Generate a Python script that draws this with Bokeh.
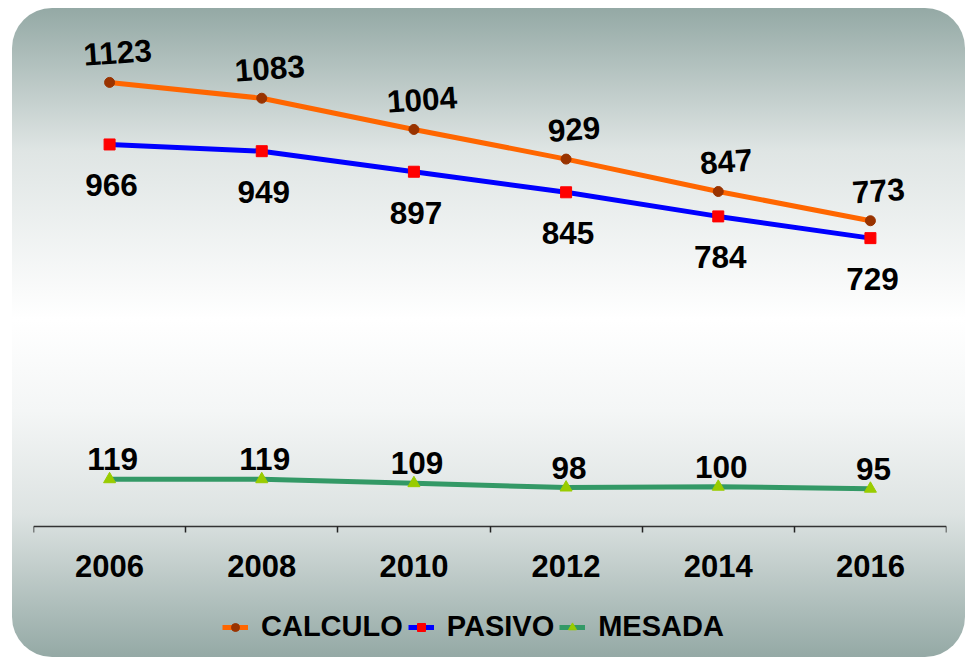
from bokeh.plotting import figure
from bokeh.models import ColumnDataSource, FixedTicker, Legend, LegendItem, LabelSet, Range1d
from bokeh.core.properties import value
from bokeh.embed import file_html
from bokeh.resources import INLINE

# ---- data ----
years = ["2006", "2008", "2010", "2012", "2014", "2016"]
calculo = [1123, 1083, 1004, 929, 847, 773]
pasivo = [966, 949, 897, 845, 784, 729]
mesada = [119, 119, 109, 98, 100, 95]
series_names = ["CALCULO", "PASIVO", "MESADA"]

xs = list(range(len(years)))
src = ColumnDataSource(dict(
    x=xs, calculo=calculo, pasivo=pasivo, mesada=mesada,
    calculo_t=[str(v) for v in calculo],
    pasivo_t=[str(v) for v in pasivo],
    mesada_t=[str(v) for v in mesada],
))

FONT = "Liberation Sans"

p = figure(width=953, height=649,
           x_range=Range1d(-0.5, len(years) - 0.5), y_range=Range1d(-332, 1310),
           output_backend="svg", toolbar_location=None,
           y_axis_location=None,
           min_border_left=21, min_border_right=19, min_border_top=0,
           min_border_bottom=0)
p.margin = (8, 2, 0, 12)
p.background_fill_color = None
p.border_fill_color = None
p.outline_line_color = None
p.grid.visible = False
p.styles = {
    "background": "linear-gradient(to bottom, #94a9a5 0%, #dfe5e4 22%, #ffffff 48%, #f4f6f6 62%, #dde3e2 78%, #94a9a5 100%)",
    "border-radius": "40px",
}

ax = p.xaxis[0]
ax.fixed_location = 0
ax.ticker = FixedTicker(ticks=xs, minor_ticks=[i - 0.5 for i in range(len(years) + 1)])
ax.major_label_overrides = {i: y for i, y in zip(xs, years)}
ax.major_tick_out = 0
ax.major_tick_in = 0
ax.minor_tick_out = 6
ax.minor_tick_in = 0
ax.minor_tick_line_color = "#222222"
ax.minor_tick_line_width = 1.5
ax.axis_line_color = "#333333"
ax.axis_line_width = 1.5
ax.major_label_text_font = FONT
ax.major_label_text_font_size = "31px"
ax.major_label_text_font_style = "bold"
ax.major_label_text_color = "black"
ax.major_label_standoff = 23

# ---- series ----
lc = p.line("x", "calculo", source=src, line_color="#FF6600", line_width=5)
mc = p.scatter("x", "calculo", source=src, marker="circle", size=10,
               fill_color="#993300", line_color="#993300")
lp = p.line("x", "pasivo", source=src, line_color="#0000FF", line_width=5)
mp = p.scatter("x", "pasivo", source=src, marker="square", size=11,
               fill_color="#FF0000", line_color="#FF0000")
lm = p.line("x", "mesada", source=src, line_color="#339966", line_width=5)
mm = p.scatter("x", "mesada", source=src, marker="triangle", size=12,
               fill_color="#99CC00", line_color="#99CC00")

label_style = dict(text_font=value(FONT), text_font_size="31.5px", text_font_style="bold",
                   text_color="black", text_align="center", text_baseline="middle")
p.add_layout(LabelSet(x="x", y="calculo", text="calculo_t", source=src,
                      x_offset=8, y_offset=30, angle=0.07, **label_style))
p.add_layout(LabelSet(x="x", y="pasivo", text="pasivo_t", source=src,
                      x_offset=2, y_offset=-41, **label_style))
p.add_layout(LabelSet(x="x", y="mesada", text="mesada_t", source=src,
                      x_offset=3, y_offset=20, **label_style))

legend = Legend(items=[
    LegendItem(label=series_names[0], renderers=[lc, mc]),
    LegendItem(label=series_names[1], renderers=[lp, mp]),
    LegendItem(label=series_names[2], renderers=[lm, mm]),
], orientation="horizontal", location=(189, 14),
    label_text_font=FONT, label_text_font_size="29px", label_text_font_style="bold",
    label_text_color="black", glyph_width=26, label_standoff=13, spacing=5,
    padding=0, margin=0, background_fill_alpha=0, border_line_color=None)
p.add_layout(legend, "center")

open("out.html", "w").write(file_html(p, INLINE))
